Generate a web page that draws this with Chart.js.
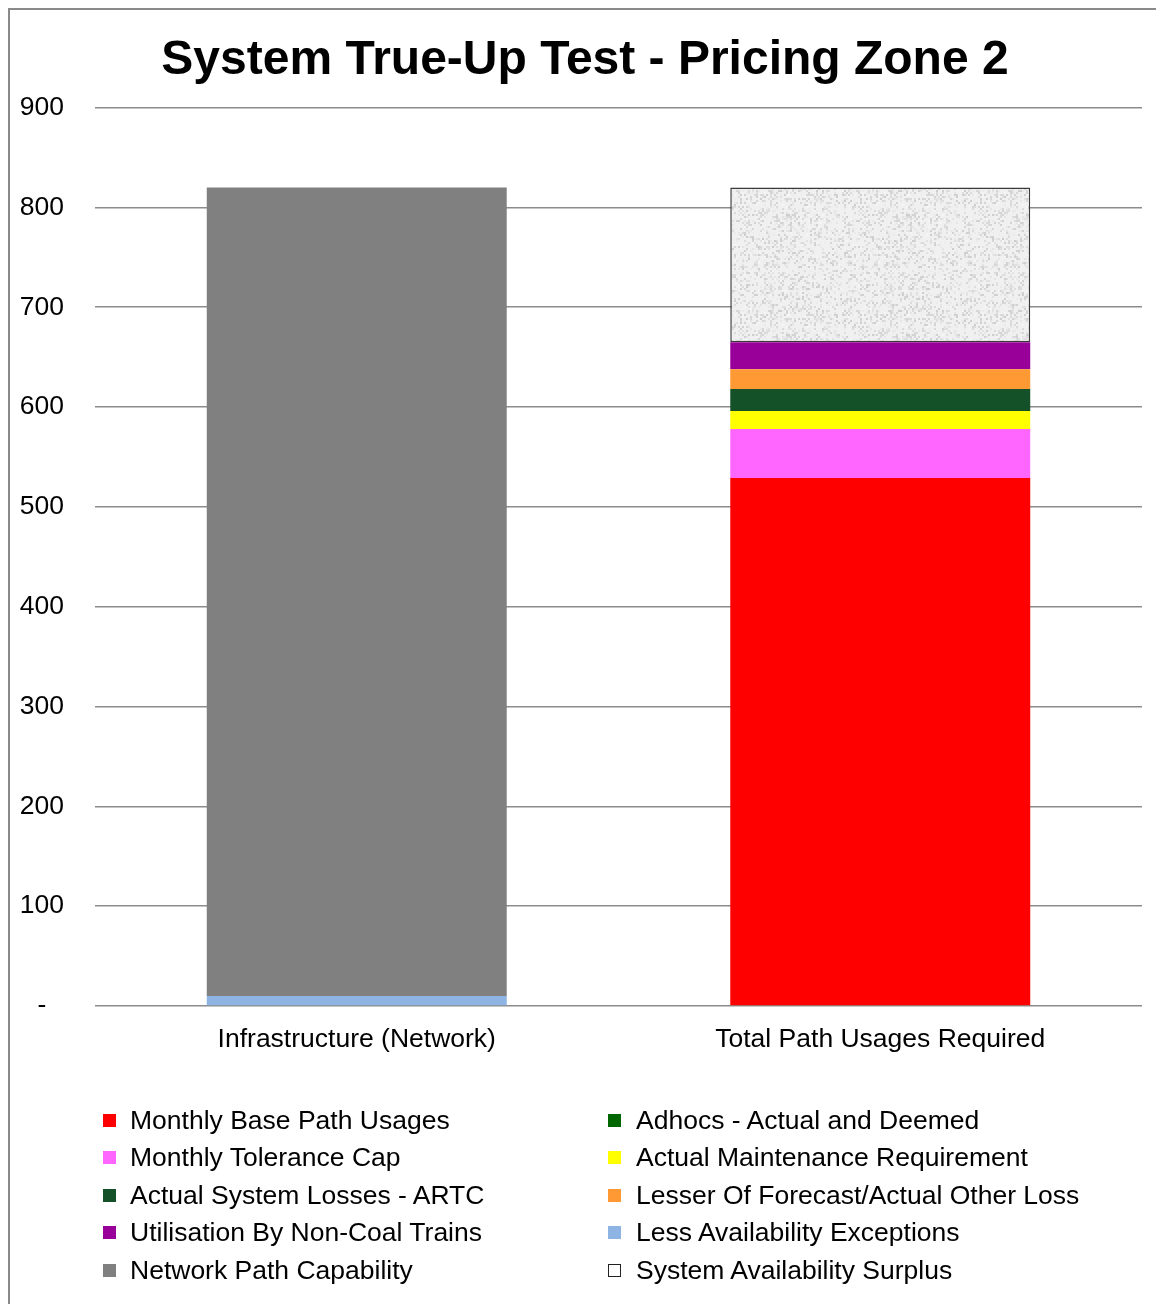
<!DOCTYPE html>
<html>
<head>
<meta charset="utf-8">
<script src="https://cdn.jsdelivr.net/npm/chart.js@4.4.1/dist/chart.umd.min.js"></script>
<style>
html, body { margin: 0; padding: 0; background: #fff; overflow: hidden; }
body { width: 1156px; height: 1304px; position: relative; font-family: "Liberation Sans", Arial, sans-serif; }
#frame { position: absolute; left: 8px; top: 8px; width: 1160px; height: 1320px; border: 2px solid #8a8a8a; box-sizing: border-box; }
#wrap { position: absolute; left: 0; top: 0; width: 1170px; height: 1304px; }
#legend { position: absolute; left: 0; top: 0; width: 1156px; height: 1304px; pointer-events: none; }
.item { position: absolute; font-size: 26.5px; color: #000; line-height: 30px; white-space: nowrap; }
.sw { position: absolute; width: 13px; height: 13px; box-sizing: border-box; }
</style>
</head>
<body>
<div id="frame"></div>
<div id="wrap"><canvas id="chart" width="1170" height="1304"></canvas></div>
<div id="legend"></div>
<script>
// categories and values
const categories = ['Infrastructure (Network)', 'Total Path Usages Required'];
const seriesNames = [
  'Monthly Base Path Usages',
  'Adhocs - Actual and Deemed',
  'Monthly Tolerance Cap',
  'Actual Maintenance Requirement',
  'Actual System Losses - ARTC',
  'Lesser Of Forecast/Actual Other Loss',
  'Utilisation By Non-Coal Trains',
  'Less Availability Exceptions',
  'Network Path Capability',
  'System Availability Surplus'
];
const baseUsages = [0, 529];
const adhocs = [0, 0];
const toleranceCap = [0, 49];
const maintenance = [0, 18];
const systemLosses = [0, 22];
const otherLoss = [0, 20];
const nonCoal = [0, 27];
const availExceptions = [10, 0];
const pathCapability = [810, 0];
const surplus = [0, 155];
const yTicks = [0, 100, 200, 300, 400, 500, 600, 700, 800, 900];

const seriesValues = [baseUsages, adhocs, toleranceCap, maintenance, systemLosses,
  otherLoss, nonCoal, availExceptions, pathCapability, surplus];
const colors = ['#ff0000', '#006600', '#ff66ff', '#ffff00', '#155128',
  '#ff9933', '#990099', '#8db4e2', '#808080', '#eeeeee'];

// blotchy light-grey fill for the surplus block
function makeTexture() {
  const c = document.createElement('canvas');
  c.width = 120; c.height = 120;
  const g = c.getContext('2d');
  g.fillStyle = '#f0f0f0';
  g.fillRect(0, 0, 120, 120);
  for (let i = 0; i < 60; i++) {
    for (let j = 0; j < 60; j++) {
      const h = Math.abs(Math.sin(i * 12.9898 + j * 78.233) * 43758.5453) % 1;
      if (h > 0.55) {
        const v = Math.round(205 + (1 - h) * 90);
        g.fillStyle = `rgb(${v},${v},${v})`;
        g.fillRect(i * 2, j * 2, 2, 2);
      }
    }
  }
  return g.createPattern(c, 'repeat');
}
const texture = makeTexture();

const datasets = seriesNames.map((name, i) => ({
  label: name,
  data: seriesValues[i],
  backgroundColor: i === 9 ? texture : colors[i],
  borderColor: i === 9 ? '#3a3a3a' : colors[i],
  borderWidth: i === 9 ? 1.5 : 0,
  borderSkipped: false,
  barPercentage: 0.573,
  categoryPercentage: 1.0,
  stack: 's'
}));

const font = { family: '"Liberation Sans", Arial, sans-serif', size: 26.5 };

// the title in the original sits centred on the whole frame, a bit right of the plot
const nudgeTitle = {
  id: 'nudgeTitle',
  afterLayout(chart) {
    const t = chart.titleBlock;
    if (t) { t.left += 9; t.right += 9; }
  }
};

new Chart(document.getElementById('chart'), {
  type: 'bar',
  data: { labels: categories, datasets: datasets },
  plugins: [nudgeTitle],
  options: {
    responsive: false,
    animation: false,
    layout: { padding: { left: 10, right: 28, top: 0, bottom: 238 } },
    plugins: {
      legend: { display: false },
      tooltip: { enabled: false },
      title: {
        display: true,
        text: 'System True-Up Test - Pricing Zone 2',
        color: '#000',
        font: { family: '"Liberation Sans", Arial, sans-serif', size: 48, weight: 'bold' },
        padding: { top: 32, bottom: 18 }
      }
    },
    scales: {
      x: {
        stacked: true,
        grid: { display: false, drawTicks: false },
        border: { display: false },
        ticks: { color: '#000', font: font, padding: 18, maxRotation: 0 },
        afterFit: (s) => { s.height = 60; }
      },
      y: {
        stacked: true,
        min: 0,
        max: 900,
        afterBuildTicks: (s) => { s.ticks = yTicks.map(v => ({ value: v })); },
        grid: { color: '#8c8c8c', lineWidth: 1.5, drawTicks: false },
        border: { display: false },
        ticks: {
          color: '#000', font: font, padding: 31, crossAlign: 'center',
          callback: (v) => v === 0 ? '-' : String(v)
        },
        afterFit: (s) => { s.width = 85; }
      }
    }
  }
});

// two-column legend, row by row like the original
const legend = document.getElementById('legend');
seriesNames.forEach((name, i) => {
  const col = i % 2, row = Math.floor(i / 2);
  const cy = 1120 + row * 37.5;
  const sw = document.createElement('div');
  sw.className = 'sw';
  sw.style.left = (col ? 608 : 103) + 'px';
  sw.style.top = (cy - 6.5) + 'px';
  if (i === 9) {
    sw.style.background = '#fff';
    sw.style.border = '1.5px solid #222';
  } else {
    sw.style.background = colors[i];
  }
  legend.appendChild(sw);
  const t = document.createElement('div');
  t.className = 'item';
  t.textContent = name;
  t.style.left = (col ? 636 : 130) + 'px';
  t.style.top = (cy - 15.5) + 'px';
  legend.appendChild(t);
});
</script>
</body>
</html>
